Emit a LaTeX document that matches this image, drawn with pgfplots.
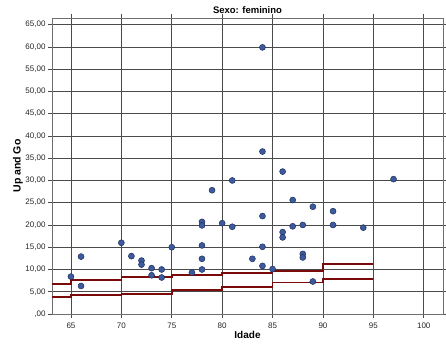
\documentclass[border=0pt]{standalone}
\usepackage{pgfplots}
\pgfplotsset{compat=1.18}
\usepackage{fontspec}
\setmainfont{Liberation Sans}
\definecolor{mk}{HTML}{3D5A9E}
\definecolor{mkedge}{HTML}{1F2F5A}
\definecolor{stepc}{HTML}{7A0A0A}
\definecolor{gridc}{HTML}{4A4A4A}
\begin{document}
\begin{tikzpicture}[x=1pt,y=1pt]
\useasboundingbox (-52,-30) rectangle (394,314);
\begin{axis}[
  at={(0,0)}, anchor=south west,
  scale only axis, width=391pt, height=296pt,
  xmin=63.12, xmax=101.91, ymin=0, ymax=66.5,
  xtick={65,70,...,100},
  ytick={0,5,...,65},
  yticklabels={{,00},{5,00},{10,00},{15,00},{20,00},{25,00},{30,00},{35,00},{40,00},{45,00},{50,00},{55,00},{60,00},{65,00}},
  tick align=outside, major tick length=4pt,
  tick style={gridc, line width=0.6pt},
  xticklabel style={font=\fontsize{8}{9}\selectfont, color=black!85, yshift=-1pt},
  yticklabel style={font=\fontsize{8}{9}\selectfont, color=black!85, xshift=1pt},
  /pgf/number format/assume math mode=true,
  grid=major,
  major grid style={gridc, line width=0.7pt},
  axis line style={gridc!80, line width=0.7pt},
  axis on top=false,
  clip=false,
]
\addplot[const plot, stepc, line width=1.6pt] coordinates {
(63.12,6.8) (65,7.7) (70,8.3) (75,8.7) (80,9.2) (85,9.6) (90,11.2) (95,11.2)
};
\addplot[const plot, stepc, line width=1.6pt] coordinates {
(63.12,3.8) (65,4.3) (70,4.5) (75,5.4) (80,6.1) (85,7.1) (90,7.9) (95,7.9)
};
\addplot[only marks, mark=*, mark size=3pt, mark options={fill=mk, draw=mkedge, line width=0.5pt}] table {
x y
65 8.4
66 6.3
66 12.9
70 16.0
71 13.0
72 12.0
72 11.1
73 10.3
73 8.7
74 10.0
74 8.2
75 15.0
77 9.3
78 20.7
78 19.9
78 15.4
78 12.4
78 10.0
79 27.8
80 20.4
81 30.0
81 19.6
83 12.4
84 59.9
84 36.5
84 22.0
84 15.1
84 10.8
85 10.1
86 32.0
86 18.4
86 17.2
87 25.6
87 19.7
88 20.0
88 13.5
88 12.7
89 24.1
89 7.3
91 23.1
91 20.0
94 19.4
97 30.3
};
\node[font=\bfseries\fontsize{9.5}{11}\selectfont, anchor=base] at (rel axis cs:0.5,1) [yshift=4.5pt] {Sexo: feminino};
\node[font=\bfseries\fontsize{10}{12}\selectfont] at (rel axis cs:0.5,0) [yshift=-21pt] {Idade};
\end{axis}
\node[font=\bfseries\fontsize{10.5}{12}\selectfont, rotate=90] at (-34,148) {Up and Go};
\end{tikzpicture}
\end{document}
